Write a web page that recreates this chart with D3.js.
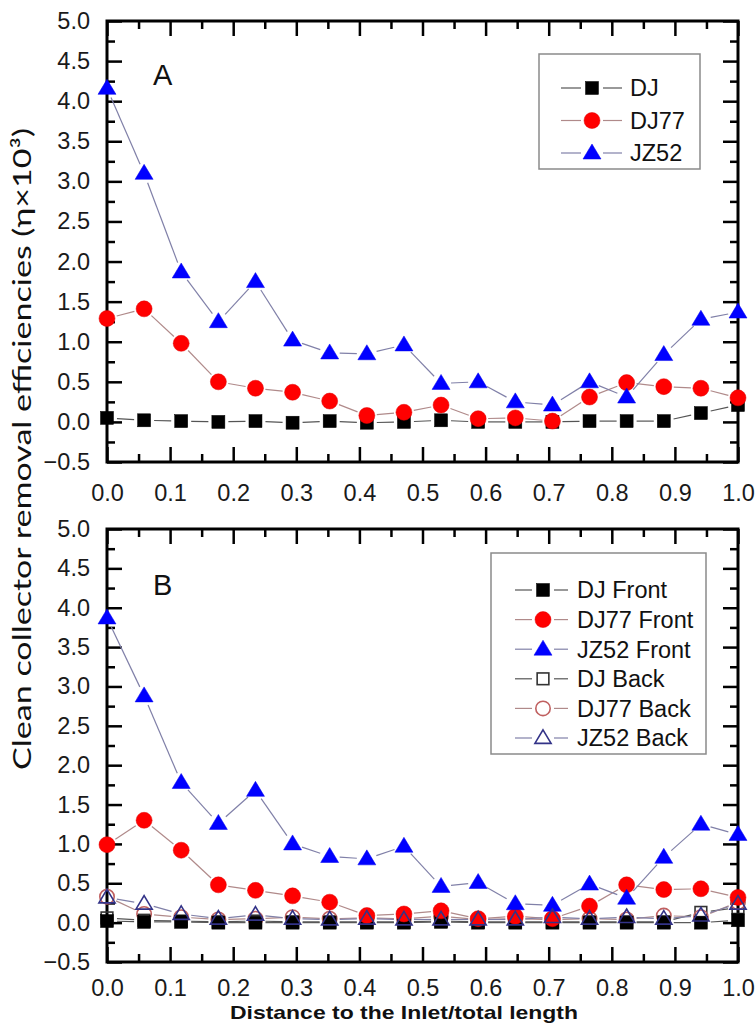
<!DOCTYPE html>
<html><head><meta charset="utf-8">
<script src="https://cdn.jsdelivr.net/npm/d3@7"></script>
<style>body{margin:0;background:#fff}svg{display:block}</style>
</head><body>
<svg id="c" width="756" height="1027"></svg>
<script>
// ---------- data ----------
const xPos = [0, 0.0588, 0.1176, 0.1765, 0.2353, 0.2941, 0.3529, 0.4118, 0.4706, 0.5294, 0.5882, 0.6471, 0.7059, 0.7647, 0.8235, 0.8824, 0.9412, 1.0];

const A_DJ   = [0.05, 0.02, 0.01, 0.00, 0.01, -0.01, 0.01, -0.01, 0.00, 0.02, 0.00, 0.00, 0.00, 0.01, 0.01, 0.01, 0.11, 0.21];
const A_DJ77 = [1.29, 1.41, 0.98, 0.50, 0.42, 0.37, 0.26, 0.08, 0.12, 0.21, 0.04, 0.05, 0.01, 0.31, 0.49, 0.44, 0.42, 0.30];
const A_JZ52 = [4.16, 3.10, 1.87, 1.25, 1.75, 1.02, 0.86, 0.85, 0.96, 0.48, 0.50, 0.25, 0.21, 0.50, 0.31, 0.84, 1.28, 1.37];

const B_DJFront   = [0.02, 0.01, 0.01, 0.00, 0.00, 0.00, 0.00, 0.00, 0.00, 0.01, 0.00, 0.00, 0.00, 0.00, 0.00, 0.00, 0.00, 0.03];
const B_DJ77Front = [0.99, 1.30, 0.92, 0.48, 0.41, 0.34, 0.26, 0.09, 0.11, 0.15, 0.05, 0.08, 0.05, 0.21, 0.48, 0.42, 0.43, 0.32];
const B_JZ52Front = [3.87, 2.88, 1.78, 1.26, 1.68, 1.00, 0.84, 0.81, 0.97, 0.46, 0.51, 0.24, 0.22, 0.49, 0.31, 0.83, 1.25, 1.12];
const B_DJBack    = [0.06, 0.03, 0.02, 0.01, 0.02, 0.01, 0.01, 0.01, 0.01, 0.02, 0.01, 0.01, 0.01, 0.01, 0.01, 0.01, 0.13, 0.19];
const B_DJ77Back  = [0.33, 0.11, 0.07, 0.04, 0.05, 0.07, 0.05, 0.06, 0.05, 0.08, 0.04, 0.05, 0.04, 0.05, 0.04, 0.09, 0.07, 0.26];
const B_JZ52Back  = [0.32, 0.24, 0.11, 0.05, 0.10, 0.05, 0.04, 0.05, 0.04, 0.04, 0.04, 0.04, 0.07, 0.05, 0.07, 0.05, 0.09, 0.24];

const xTicks = [0, 0.1, 0.2, 0.3, 0.4, 0.5, 0.6, 0.7, 0.8, 0.9, 1.0];
const yTicks = [-0.5, 0, 0.5, 1.0, 1.5, 2.0, 2.5, 3.0, 3.5, 4.0, 4.5, 5.0];
const legendA = ["DJ", "DJ77", "JZ52"];
const legendB = ["DJ Front", "DJ77 Front", "JZ52 Front", "DJ Back", "DJ77 Back", "JZ52 Back"];
const panelLabels = ["A", "B"];
const xTitle = "Distance to the Inlet/total length";
const yTitle = "Clean collector removal efficiencies (η×10³)";

// ---------- styles ----------
const styles = {
  DJ:   {shape: "square",   fill: "#000", stroke: "#000", line: "#555"},
  DJ77: {shape: "circle",   fill: "#ff0000", stroke: "#e00000", line: "#b08a8a"},
  JZ52: {shape: "triangle", fill: "#0000ff", stroke: "#0000ee", line: "#8080a8"},
  DJb:  {shape: "square",   fill: "none", stroke: "#333", line: "#555"},
  DJ77b:{shape: "circle",   fill: "none", stroke: "#c06060", line: "#b08a8a"},
  JZ52b:{shape: "triangle", fill: "none", stroke: "#333388", line: "#8080a8"}
};

const svg = d3.select("#c");
const tickFont = "'Liberation Sans', Arial, sans-serif";

function marker(g, st, cx, cy, open) {
  const s = open ? 0.9 : 1;
  if (st.shape === "square") {
    const a = 13 * s;
    g.append("rect").attr("x", cx - a/2).attr("y", cy - a/2).attr("width", a).attr("height", a)
      .attr("fill", st.fill === "none" ? "#fff" : st.fill).attr("fill-opacity", st.fill === "none" ? 0 : 1)
      .attr("stroke", st.stroke).attr("stroke-width", open ? 1.6 : 0.5);
  } else if (st.shape === "circle") {
    g.append("circle").attr("cx", cx).attr("cy", cy).attr("r", 8 * s)
      .attr("fill", st.fill).attr("stroke", st.stroke).attr("stroke-width", open ? 1.6 : 0.5);
  } else {
    const w = 18 * s, h = 15 * s;
    g.append("path").attr("d", `M${cx},${cy - h*0.6}L${cx + w/2},${cy + h*0.4}L${cx - w/2},${cy + h*0.4}Z`)
      .attr("fill", st.fill).attr("stroke", st.stroke).attr("stroke-width", open ? 1.6 : 0.5)
      .attr("stroke-linejoin", "miter");
  }
}

function series(g, x, y, vals, st, open) {
  const pts = vals.map((v, i) => [x(xPos[i]), y(v)]);
  const gap = 10;
  const lg = g.append("g");
  for (let i = 0; i < pts.length - 1; i++) {
    const [x1, y1] = pts[i], [x2, y2] = pts[i+1];
    const dx = x2 - x1, dy = y2 - y1, L = Math.hypot(dx, dy);
    if (L <= 2 * gap) continue;
    const ux = dx / L, uy = dy / L;
    lg.append("line").attr("x1", x1 + ux*gap).attr("y1", y1 + uy*gap)
      .attr("x2", x2 - ux*gap).attr("y2", y2 - uy*gap)
      .attr("stroke", st.line).attr("stroke-width", 1.2);
  }
  const mg = g.append("g");
  pts.forEach(p => marker(mg, st, p[0], p[1], open));
}

function panel(top, bottom, seriesList, label, labelY, xPad) {
  const left = 107, right = 738;
  const x = d3.scaleLinear().domain([0, 1]).range([left, right]);
  const y = d3.scaleLinear().domain([-0.5, 5]).range([bottom, top]);
  const g = svg.append("g");

  const minorX = d3.range(0.05, 1, 0.1);
  const minorY = d3.range(-0.25, 5, 0.5);

  const axes = g.append("g").attr("stroke-width", 2.5);
  // bottom
  axes.append("g").attr("transform", `translate(0,${bottom})`)
    .call(d3.axisBottom(x).tickValues(xTicks).tickSizeInner(-15).tickSizeOuter(0).tickFormat(d3.format(".1f")).tickPadding(xPad));
  axes.append("g").attr("transform", `translate(0,${bottom})`)
    .call(d3.axisBottom(x).tickValues(minorX).tickSizeInner(-8).tickSizeOuter(0).tickFormat(""));
  // top
  axes.append("g").attr("transform", `translate(0,${top})`)
    .call(d3.axisTop(x).tickValues(xTicks).tickSizeInner(-15).tickSizeOuter(0).tickFormat(""));
  axes.append("g").attr("transform", `translate(0,${top})`)
    .call(d3.axisTop(x).tickValues(minorX).tickSizeInner(-8).tickSizeOuter(0).tickFormat(""));
  // left
  axes.append("g").attr("transform", `translate(${left},0)`)
    .call(d3.axisLeft(y).tickValues(yTicks).tickSizeInner(-15).tickSizeOuter(0).tickFormat(d3.format(".1f")).tickPadding(17));
  axes.append("g").attr("transform", `translate(${left},0)`)
    .call(d3.axisLeft(y).tickValues(minorY).tickSizeInner(-8).tickSizeOuter(0).tickFormat(""));
  // right
  axes.append("g").attr("transform", `translate(${right},0)`)
    .call(d3.axisRight(y).tickValues(yTicks).tickSizeInner(-15).tickSizeOuter(0).tickFormat(""));
  axes.append("g").attr("transform", `translate(${right},0)`)
    .call(d3.axisRight(y).tickValues(minorY).tickSizeInner(-8).tickSizeOuter(0).tickFormat(""));

  axes.selectAll(".domain").remove();
  axes.selectAll(".tick line").attr("stroke", "#000").attr("stroke-width", 2.5);
  axes.selectAll(".tick text").attr("font-family", tickFont).attr("font-size", 23.5).attr("fill", "#1a1a1a");

  g.append("rect").attr("x", left).attr("y", top).attr("width", right - left).attr("height", bottom - top)
    .attr("fill", "none").attr("stroke", "#000").attr("stroke-width", 3);

  const plot = g.append("g");
  seriesList.forEach(s => series(plot, x, y, s.vals, s.st, s.open));

  g.append("text").attr("x", 153).attr("y", labelY).text(label)
    .attr("font-family", tickFont).attr("font-size", 29).attr("fill", "#111");
  return {x, y, g};
}

// Panel A
panel(21, 462, [
  {vals: A_DJ, st: styles.DJ},
  {vals: A_DJ77, st: styles.DJ77},
  {vals: A_JZ52, st: styles.JZ52}
], panelLabels[0], 85, 22);

// Panel B
panel(529, 962, [
  {vals: B_DJBack, st: styles.DJb, open: true},
  {vals: B_DJ77Back, st: styles.DJ77b, open: true},
  {vals: B_DJFront, st: styles.DJ},
  {vals: B_DJ77Front, st: styles.DJ77},
  {vals: B_JZ52Front, st: styles.JZ52},
  {vals: B_JZ52Back, st: styles.JZ52b, open: true}
], panelLabels[1], 595, 17);

// Legends
function legend(box, names, stList, opens, y0, dy, lineX1, lineX2, mx, tx) {
  const g = svg.append("g");
  g.append("rect").attr("x", box[0]).attr("y", box[1]).attr("width", box[2]).attr("height", box[3])
    .attr("fill", "#fff").attr("stroke", "#8a8a8a").attr("stroke-width", 1.5);
  names.forEach((n, i) => {
    const yy = y0 + i * dy;
    const st = stList[i];
    g.append("line").attr("x1", lineX1).attr("x2", mx - 11).attr("y1", yy).attr("y2", yy).attr("stroke", st.line).attr("stroke-width", 1.2);
    g.append("line").attr("x1", mx + 11).attr("x2", lineX2).attr("y1", yy).attr("y2", yy).attr("stroke", st.line).attr("stroke-width", 1.2);
    marker(g, st, mx, yy, opens[i]);
    g.append("text").attr("x", tx).attr("y", yy).attr("dy", "0.36em").text(n)
      .attr("font-family", tickFont).attr("font-size", 23.5).attr("fill", "#111");
  });
}
legend([539, 54, 161, 115], legendA, [styles.DJ, styles.DJ77, styles.JZ52], [false, false, false], 88, 32.5, 561, 622, 592, 630);
legend([491, 553, 215, 201], legendB,
  [styles.DJ, styles.DJ77, styles.JZ52, styles.DJb, styles.DJ77b, styles.JZ52b],
  [false, false, false, true, true, true], 590, 29.6, 515, 568, 543, 577);

// Axis titles
svg.append("text").attr("x", 404).attr("y", 1019).attr("text-anchor", "middle").text(xTitle)
  .attr("font-family", tickFont).attr("font-weight", "bold").attr("font-size", 19)
  .attr("textLength", 348).attr("lengthAdjust", "spacingAndGlyphs").attr("fill", "#111");

svg.append("text").attr("transform", "translate(31,449) rotate(-90)").attr("text-anchor", "middle").text(yTitle)
  .attr("font-family", "Lato, 'Open Sans', sans-serif").attr("font-size", 25)
  .attr("textLength", 642).attr("lengthAdjust", "spacingAndGlyphs").attr("fill", "#111");
</script>
</body></html>
